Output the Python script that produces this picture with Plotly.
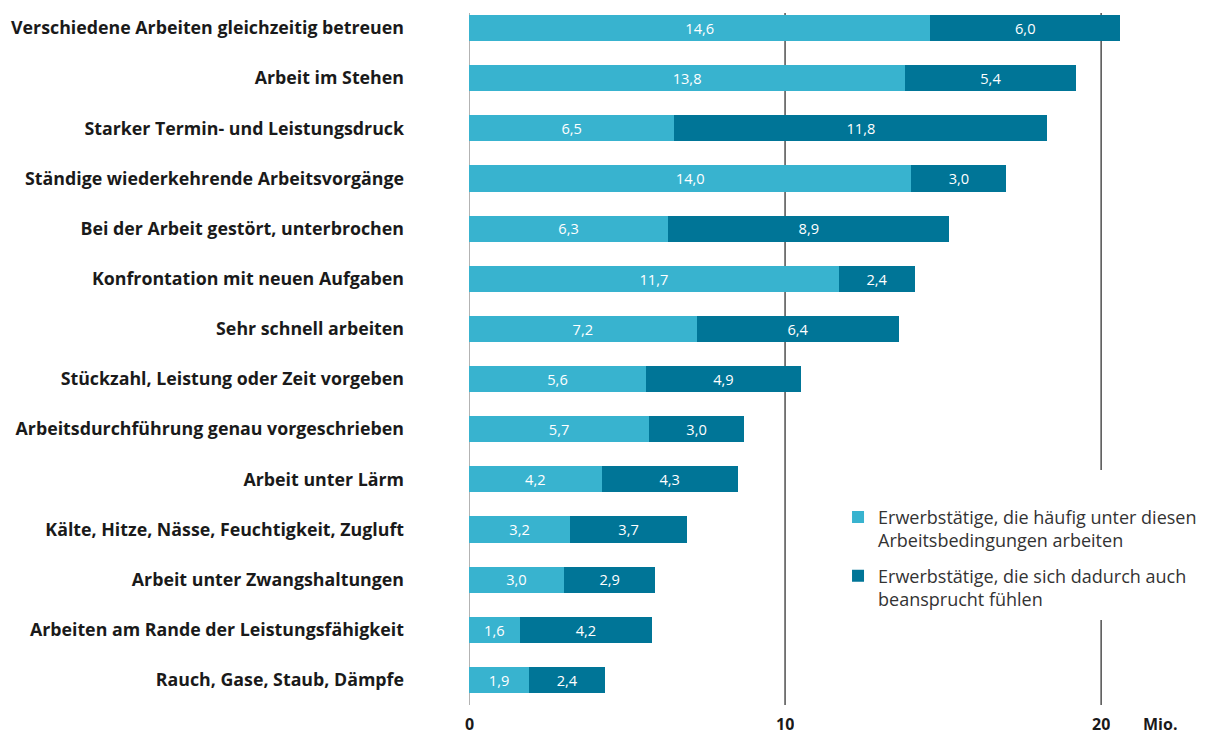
import plotly.graph_objects as go

categories = [
    "Verschiedene Arbeiten gleichzeitig betreuen",
    "Arbeit im Stehen",
    "Starker Termin- und Leistungsdruck",
    "Ständige wiederkehrende Arbeitsvorgänge",
    "Bei der Arbeit gestört, unterbrochen",
    "Konfrontation mit neuen Aufgaben",
    "Sehr schnell arbeiten",
    "Stückzahl, Leistung oder Zeit vorgeben",
    "Arbeitsdurchführung genau vorgeschrieben",
    "Arbeit unter Lärm",
    "Kälte, Hitze, Nässe, Feuchtigkeit, Zugluft",
    "Arbeit unter Zwangshaltungen",
    "Arbeiten am Rande der Leistungsfähigkeit",
    "Rauch, Gase, Staub, Dämpfe",
]
haeufig = [14.6, 13.8, 6.5, 14.0, 6.3, 11.7, 7.2, 5.6, 5.7, 4.2, 3.2, 3.0, 1.6, 1.9]
beansprucht = [6.0, 5.4, 11.8, 3.0, 8.9, 2.4, 6.4, 4.9, 3.0, 4.3, 3.7, 2.9, 4.2, 2.4]
series_names = [
    "Erwerbstätige, die häufig unter diesen<br>Arbeitsbedingungen arbeiten",
    "Erwerbstätige, die sich dadurch auch<br>beansprucht fühlen",
]
tick_values = [0, 10, 20]
tick_labels = ["0", "10", "20"]
unit_label = "Mio."

LIGHT = "#38B3CF"
DARK = "#007597"
FONT = "Open Sans"

fig = go.Figure()
for i, (name, vals, col) in enumerate([(series_names[0], haeufig, LIGHT), (series_names[1], beansprucht, DARK)]):
    fig.add_trace(go.Bar(
        y=categories, x=vals, orientation="h", name=name, legendgroup=f"g{i}",
        marker=dict(color=col, line=dict(width=0)),
        width=0.52,
        texttemplate="%{x:.1f}", textposition="inside", insidetextanchor="middle",
        textfont=dict(color="white", size=17.5, family=FONT),
        hoverinfo="skip",
    ))

# vertical reference lines
shapes = []
top = 0.993
for v in tick_values:
    color = "#8a8a8a" if v == 0 else "#333333"
    if v == 20:
        segs = [(0.337, top), (0.0, 0.122)]
    else:
        segs = [(0.0, top)]
    for y0, y1 in segs:
        shapes.append(dict(type="line", xref="x", yref="paper", x0=v, x1=v, y0=y0, y1=y1,
                           line=dict(color=color, width=1.3), layer="below"))

annotations = []
for v, t in zip(tick_values + [21.87], tick_labels + [unit_label]):
    annotations.append(dict(x=v, y=0, yshift=-19, xref="x", yref="paper", text=f"<b>{t}</b>",
                            showarrow=False, yanchor="middle", xanchor="center", height=16,
                            borderpad=0,
                            font=dict(size=16, color="#1a1a1a", family=FONT)))

fig.update_layout(
    width=1205, height=726,
    margin=dict(l=461, r=0, t=0, b=29, autoexpand=False),
    barmode="stack",
    separators=",.",
    plot_bgcolor="white", paper_bgcolor="white",
    showlegend=True,
    legend=dict(x=0.496, y=0.296, xanchor="left", yanchor="top", valign="top",
                font=dict(size=18, color="#333333", family=FONT),
                tracegroupgap=9, bgcolor="rgba(0,0,0,0)", traceorder="grouped"),
    xaxis=dict(range=[0, 23.54], showgrid=False, zeroline=False, showticklabels=False,
               showline=False, fixedrange=True, automargin=False),
    yaxis=dict(range=[13.5, -0.4], showgrid=False, zeroline=False, showline=False,
               automargin=False,
               ticklabelstandoff=64, tickfont=dict(size=17.8, color="#1a1a1a", family=FONT),
               tickmode="array", tickvals=categories,
               ticktext=[f"<b>{c}</b>" for c in categories]),
    shapes=shapes,
    annotations=annotations,
)

fig.write_html("out.html")
